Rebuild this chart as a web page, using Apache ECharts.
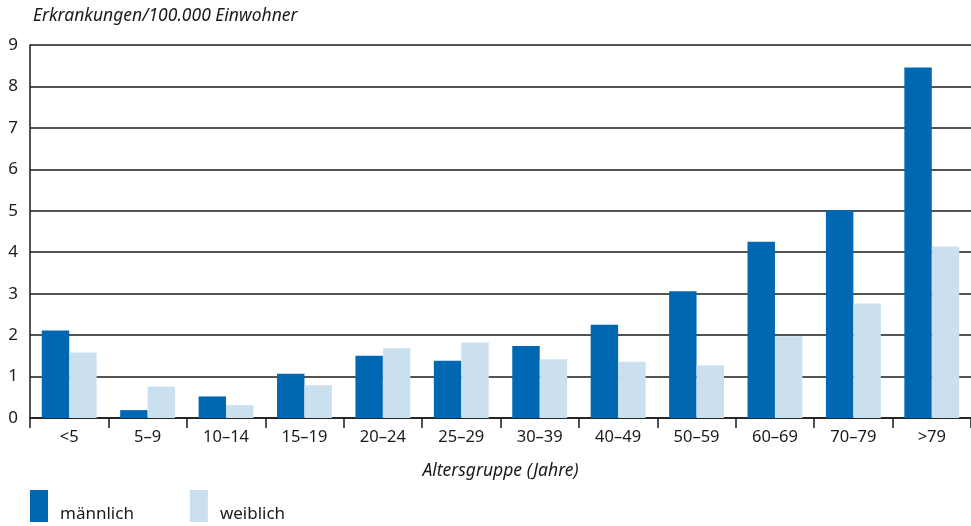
<!DOCTYPE html>
<html><head><meta charset="utf-8">
<script src="https://cdn.jsdelivr.net/npm/echarts@6/dist/echarts.min.js"></script>
<style>html,body{margin:0;padding:0;background:#fff}#c{width:971px;height:526px}</style>
</head><body><div id="c"></div>
<script>
const categories = ['<5','5–9','10–14','15–19','20–24','25–29','30–39','40–49','50–59','60–69','70–79','>79'];
const maleValues = [2.11,0.19,0.52,1.07,1.50,1.38,1.74,2.25,3.06,4.25,5.01,8.46];
const femaleValues = [1.58,0.76,0.31,0.79,1.68,1.82,1.42,1.36,1.27,1.97,2.76,4.14];
const yTicks = [0,1,2,3,4,5,6,7,8,9];
const seriesNames = ['männlich','weiblich'];
const FONT = 'Noto Sans';
const chart = echarts.init(document.getElementById('c'), null, {renderer:'canvas'});
chart.setOption({
  animation:false,
  textStyle:{fontFamily:FONT,color:'#1a1a1a'},
  title:{text:'Erkrankungen/100.000 Einwohner',left:28,top:2,padding:[5,5,5,5],
    textStyle:{fontFamily:FONT,fontStyle:'italic',fontWeight:'normal',fontSize:17.5,color:'#1a1a1a'}},
  grid:{left:30,right:0,top:45,bottom:108},
  legend:{left:30,top:490,padding:0,itemWidth:18,itemHeight:32,itemGap:56,icon:'rect',
    formatter:n=>'{t|'+n+'}',
    textStyle:{fontFamily:FONT,fontSize:17,color:'#1a1a1a',
      rich:{t:{fontFamily:FONT,fontSize:17,color:'#1a1a1a',padding:[16,0,0,7]}}},
    data:seriesNames},
  xAxis:{type:'category',data:categories,
    axisLine:{lineStyle:{color:'#1a1a1a',width:1.5}},
    axisTick:{show:true,length:10,lineStyle:{color:'#1a1a1a',width:1.5}},
    axisLabel:{fontFamily:FONT,fontSize:16.5,color:'#1a1a1a',margin:11},
    name:'Altersgruppe (Jahre)',nameLocation:'middle',nameGap:44,
    nameTextStyle:{fontFamily:FONT,fontStyle:'italic',fontSize:17.5,color:'#1a1a1a'}},
  yAxis:{type:'value',min:0,max:9,interval:1,
    axisLine:{show:true,lineStyle:{color:'#1a1a1a',width:1.5}},
    axisTick:{show:false},
    splitLine:{lineStyle:{color:'#1a1a1a',width:1.5}},
    axisLabel:{fontFamily:FONT,fontSize:17,color:'#1a1a1a',margin:12,
      formatter:v=>yTicks.includes(v)?String(v):''}},
  series:[
    {name:seriesNames[0],type:'bar',data:maleValues,barGap:'0%',barCategoryGap:'30%',itemStyle:{color:'#0068b3'}},
    {name:seriesNames[1],type:'bar',data:femaleValues,itemStyle:{color:'#cbe0ef'}}
  ]
});
</script></body></html>
